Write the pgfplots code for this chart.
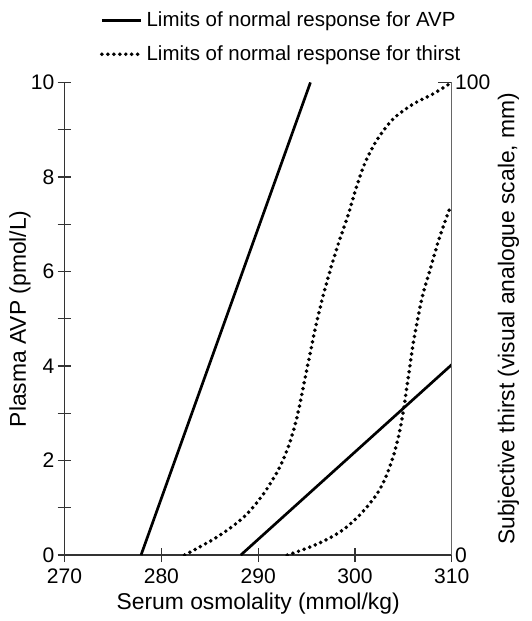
\documentclass[border=0pt]{standalone}
\usepackage{fontspec}
\setmainfont{Liberation Sans}
\usepackage{pgfplots}
\pgfplotsset{compat=1.18}

% curves: AVP lines on the left scale (pmol/L), thirst curves on the right scale (mm)
\pgfplotsset{
  avp/.style={black, line width=1.35pt},
  thirst/.style={black, line width=2pt, line cap=round, dash pattern=on 0pt off 3pt},
  every axis/.append style={
    scale only axis, width=195pt, height=238pt,
    xmin=270, xmax=310,
    /pgf/number format/assume math mode=true,
    tick align=inside,
    major tick length=7pt,
    tick style={black!80, line width=0.6pt},
    tick label style={font=\fontsize{10.6}{12}\selectfont},
    yticklabel style={inner sep=1.5pt},
    label style={font=\fontsize{11.5}{13}\selectfont},
  },
}

\begin{document}
\begin{tikzpicture}
\begin{axis}[
  name=main,
  axis x line=bottom, axis y line=left,
  axis line style={-, black!80, line width=0.6pt},
  ymin=0, ymax=10,
  ytick={0,1,...,10}, yticklabels={0,,2,,4,,6,,8,,10},
  xtick={270,280,...,310},
  xlabel={Serum osmolality (mmol/kg)},
  ylabel={Plasma AVP (pmol/L)},
  xlabel style={at={(axis description cs:0.5,0)}, anchor=center, yshift=-24.5pt},
  ylabel style={at={(axis description cs:0,0.5)}, anchor=center, yshift=22.5pt},
  legend image code/.code={\draw[#1] (0pt,0pt) -- (19.5pt,0pt);},
  legend cell align=left,
  legend style={draw=none, fill=none, at={(rel axis cs:0.075,1)}, anchor=south west,
    yshift=5.5pt, font=\fontsize{10.3}{12}\selectfont, row sep=4pt},
]
\addplot[avp] coordinates {(277.9,0) (295.4,10)};
\addlegendentry{Limits of normal response for AVP}
\addlegendimage{thirst}
\addlegendentry{Limits of normal response for thirst}
\addplot[avp, forget plot] coordinates {(288.2,0) (310,4.03)};
\end{axis}

\begin{axis}[
  hide x axis,
  axis y line*=right,
  axis line style={-, black!60, line width=0.6pt},
  ymin=0, ymax=100,
  ytick={0,100},
  ylabel={Subjective thirst (visual analogue scale, mm)},
  ylabel style={at={(axis description cs:1,0.5)}, anchor=center, yshift=-28.5pt},
]
\addplot[thirst, smooth] coordinates {
  (282.4,0) (285.9,4) (288.6,8.2) (290.6,13.1) (292.2,18.5) (293.3,24)
  (294.1,30) (294.7,36) (295.3,42) (295.9,48) (296.6,54) (297.4,60)
  (298.3,66) (299.3,72) (300.1,77.5) (301.0,82.8) (302.2,87.6) (303.9,92.2)
  (306.0,95.4) (308.0,97.5) (310,100)
};
\addplot[thirst, smooth] coordinates {
  (293,0) (295.1,1.5) (297.1,3.3) (298.8,5.4) (300.5,8.5) (302.2,12.7)
  (303.2,16.6) (304.0,21.2) (304.6,26) (305.0,30.6) (305.5,37.6) (306.0,44.6)
  (306.5,50.2) (307.0,55.1) (307.7,60) (308.7,67) (309.9,74)
};
\end{axis}
% page extent as in the reference
\path ([shift={(-32.5pt,-31pt)}]main.south west) ([shift={(40pt,41.5pt)}]main.north east);
\end{tikzpicture}
\end{document}
